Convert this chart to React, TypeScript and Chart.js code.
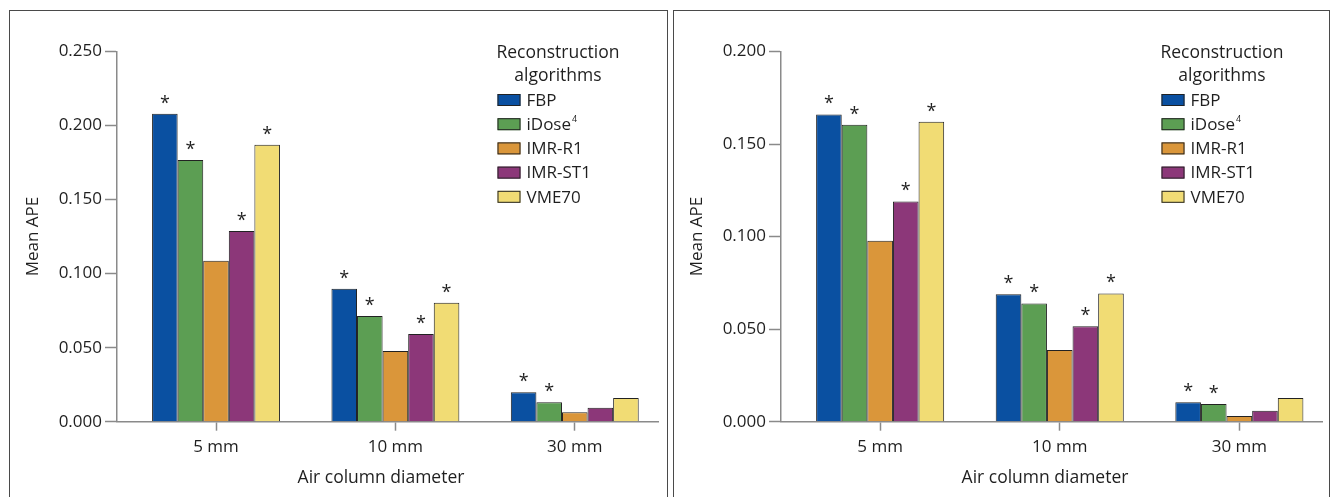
import React, { useEffect, useRef } from 'react';
import { Chart, registerables } from 'chart.js';

Chart.register(...registerables);

// ---------- data ----------
const categories = ['5 mm', '10 mm', '30 mm'];
const seriesNames = ['FBP', 'iDose⁴', 'IMR-R1', 'IMR-ST1', 'VME70'];
const seriesColors = ['#0a50a1', '#5c9e53', '#da963a', '#8c3779', '#f1dc74'];

// Left panel (Mean APE)
const leftFBP = [0.208, 0.0897, 0.0199];
const leftIDose = [0.1768, 0.0714, 0.0131];
const leftIMRR1 = [0.1087, 0.0477, 0.0064];
const leftIMRST1 = [0.1288, 0.0592, 0.0095];
const leftVME70 = [0.187, 0.0803, 0.016];

// Right panel (Mean APE)
const rightFBP = [0.166, 0.0688, 0.0105];
const rightIDose = [0.1604, 0.0639, 0.0096];
const rightIMRR1 = [0.0977, 0.0387, 0.0031];
const rightIMRST1 = [0.119, 0.0515, 0.0059];
const rightVME70 = [0.162, 0.0693, 0.0128];

// significance markers (*) per series, per category
const sigFBP = [true, true, true];
const sigIDose = [true, true, true];
const sigIMRR1 = [false, false, false];
const sigIMRST1 = [true, true, false];
const sigVME70 = [true, true, false];

const leftYTicks = [0, 0.05, 0.1, 0.15, 0.2, 0.25];
const rightYTicks = [0, 0.05, 0.1, 0.15, 0.2];

const legendTitle = ['Reconstruction', 'algorithms'];
const yTitle = 'Mean APE';
const xTitle = 'Air column diameter';

// ---------- styling ----------
const FONT_FAMILY = "'Open Sans', 'DejaVu Sans', sans-serif";
const TEXT_COLOR = '#1f1f1f';
const AXIS_COLOR = '#8a8a8a';
const BAR_BORDER = '#222222';

const SUPER_MAP: Record<string, string> = {
  '⁰': '0', '¹': '1', '²': '2', '³': '3', '⁴': '4', '⁵': '5', '⁶': '6', '⁷': '7', '⁸': '8', '⁹': '9',
};

function drawLabel(ctx: CanvasRenderingContext2D, text: string, x: number, y: number, size: number) {
  let base = '';
  let sup = '';
  for (const ch of text) {
    if (SUPER_MAP[ch]) sup += SUPER_MAP[ch];
    else base += ch;
  }
  ctx.font = `${size}px ${FONT_FAMILY}`;
  ctx.fillText(base, x, y);
  if (sup) {
    const w = ctx.measureText(base).width;
    ctx.font = `${Math.round(size * 0.55)}px ${FONT_FAMILY}`;
    ctx.fillText(sup, x + w + 1, y - 6);
  }
}

type PanelSpec = {
  series: number[][];
  yTicks: number[];
  rightPad: number;
};

function makeConfig(spec: PanelSpec): any {
  const sigs = [sigFBP, sigIDose, sigIMRR1, sigIMRST1, sigVME70];
  const yMax = spec.yTicks[spec.yTicks.length - 1];
  const font = { family: FONT_FAMILY, size: 17 };

  const annot = {
    id: 'annot',
    afterDatasetsDraw(chart: any) {
      const ctx: CanvasRenderingContext2D = chart.ctx;
      ctx.save();
      ctx.fillStyle = TEXT_COLOR;
      ctx.font = `18px ${FONT_FAMILY}`;
      ctx.textAlign = 'center';
      ctx.textBaseline = 'alphabetic';
      chart.data.datasets.forEach((_: any, di: number) => {
        const meta = chart.getDatasetMeta(di);
        meta.data.forEach((bar: any, j: number) => {
          if (sigs[di][j]) ctx.fillText('*', bar.x, bar.y - 5);
        });
      });
      ctx.restore();
    },
    afterDraw(chart: any) {
      const ctx: CanvasRenderingContext2D = chart.ctx;
      const ca = chart.chartArea;
      ctx.save();
      ctx.fillStyle = TEXT_COLOR;
      ctx.textAlign = 'center';
      ctx.textBaseline = 'middle';
      ctx.font = `17.5px ${FONT_FAMILY}`;
      legendTitle.forEach((t, i) => {
        ctx.fillText(t, ca.left + 441, ca.top + 2 + i * 23);
      });
      const bx = ca.left + 380.5;
      chart.data.datasets.forEach((ds: any, i: number) => {
        const cy = ca.top + 48.5 + i * 24.2;
        ctx.fillStyle = ds.backgroundColor;
        ctx.fillRect(bx, cy - 6, 23, 12);
        ctx.strokeStyle = BAR_BORDER;
        ctx.lineWidth = 1;
        ctx.strokeRect(bx + 0.5, cy - 5.5, 22, 11);
        ctx.fillStyle = TEXT_COLOR;
        ctx.textAlign = 'left';
        ctx.textBaseline = 'middle';
        drawLabel(ctx, ds.label, bx + 29, cy + 1, 17);
      });
      ctx.save();
      ctx.translate(ca.left - 84, (ca.top + ca.bottom) / 2);
      ctx.rotate(-Math.PI / 2);
      ctx.textAlign = 'center';
      ctx.textBaseline = 'middle';
      ctx.font = `17px ${FONT_FAMILY}`;
      ctx.fillText(yTitle, 0, 0);
      ctx.restore();
      ctx.textAlign = 'center';
      ctx.textBaseline = 'middle';
      ctx.font = `17.5px ${FONT_FAMILY}`;
      ctx.fillText(xTitle, ca.left + 264, ca.bottom + 56.5);
      ctx.restore();
    },
  };

  return {
    type: 'bar',
    data: {
      datasets: spec.series.map((vals, i) => ({
        label: seriesNames[i],
        data: vals.map((v, j) => ({ x: j, y: v })),
        backgroundColor: seriesColors[i],
        borderColor: BAR_BORDER,
        borderWidth: 1,
        categoryPercentage: 0.713,
        barPercentage: 1,
      })),
    },
    options: {
      responsive: false,
      animation: false,
      devicePixelRatio: 1,
      layout: { padding: { left: 0, right: spec.rightPad, top: 41.5, bottom: 0 } },
      plugins: {
        legend: { display: false },
        tooltip: { enabled: false },
      },
      scales: {
        x: {
          type: 'linear',
          bounds: 'data',
          min: -0.552,
          max: 2.464,
          offset: false,
          afterBuildTicks: (s: any) => {
            s.ticks = categories.map((_, i) => ({ value: i }));
          },
          afterFit: (s: any) => {
            s.height = 75.3;
          },
          ticks: {
            callback: (v: any) => categories[v] ?? '',
            font,
            color: TEXT_COLOR,
            padding: 6,
            maxRotation: 0,
            autoSkip: false,
            includeBounds: false,
          },
          grid: {
            offset: false,
            drawOnChartArea: false,
            drawTicks: true,
            tickLength: 9,
            tickColor: AXIS_COLOR,
            tickWidth: 1.5,
          },
          border: { display: true, color: AXIS_COLOR, width: 1.5 },
        },
        y: {
          min: 0,
          max: yMax,
          afterBuildTicks: (s: any) => {
            s.ticks = spec.yTicks.map((v) => ({ value: v }));
          },
          afterFit: (s: any) => {
            s.width = 107;
          },
          ticks: {
            callback: (v: any) => Number(v).toFixed(3),
            font,
            color: TEXT_COLOR,
            padding: 3,
          },
          grid: {
            offset: false,
            drawOnChartArea: false,
            drawTicks: true,
            tickLength: 12,
            tickColor: AXIS_COLOR,
            tickWidth: 1.5,
          },
          border: { display: true, color: AXIS_COLOR, width: 1.5 },
        },
      },
    },
    plugins: [annot],
  };
}

function Panel(props: { spec: PanelSpec; left: number; width: number }) {
  const ref = useRef<HTMLCanvasElement | null>(null);
  useEffect(() => {
    if (!ref.current) return;
    const chart = new Chart(ref.current, makeConfig(props.spec));
    return () => chart.destroy();
  }, []);
  return (
    <>
      <div
        style={{
          position: 'absolute',
          left: props.left - 1,
          top: 10,
          width: props.width + 1,
          height: 500,
          borderLeft: '1.5px solid #4a4a4a',
          borderTop: '1.5px solid #4a4a4a',
          borderRight: '1.5px solid #4a4a4a',
          boxSizing: 'border-box',
        }}
      />
      <canvas
        ref={ref}
        width={props.width}
        height={487}
        style={{ position: 'absolute', left: props.left, top: 10, width: props.width, height: 487, display: 'block' }}
      />
    </>
  );
}

const leftSpec: PanelSpec = {
  series: [leftFBP, leftIDose, leftIMRR1, leftIMRST1, leftVME70],
  yTicks: leftYTicks,
  rightPad: 10,
};
const rightSpec: PanelSpec = {
  series: [rightFBP, rightIDose, rightIMRR1, rightIMRST1, rightVME70],
  yTicks: rightYTicks,
  rightPad: 7.3,
};

export default function App() {
  return (
    <div
      style={{
        position: 'fixed',
        left: 0,
        top: 0,
        width: 1335,
        height: 497,
        background: '#ffffff',
        overflow: 'hidden',
      }}
    >
      <Panel spec={leftSpec} left={10} width={658} />
      <Panel spec={rightSpec} left={674} width={656} />
    </div>
  );
}
